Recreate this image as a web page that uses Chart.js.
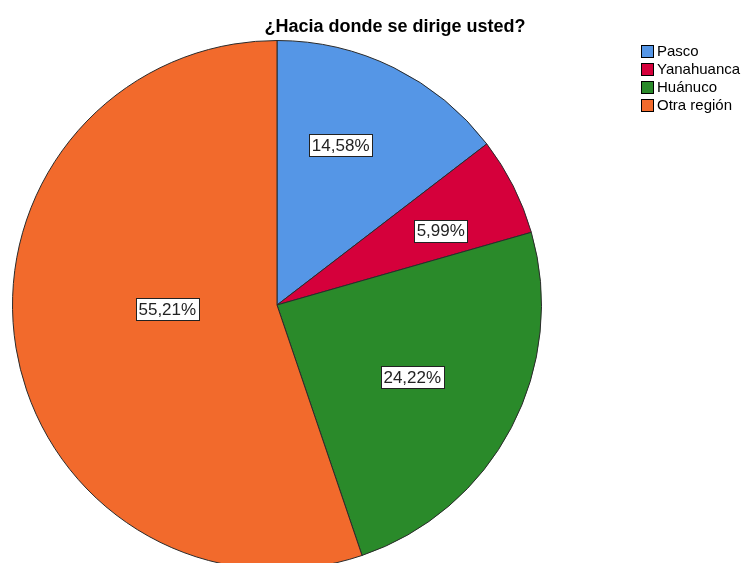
<!DOCTYPE html>
<html>
<head>
<meta charset="utf-8">
<script src="https://cdn.jsdelivr.net/npm/chart.js@4"></script>
<style>
  html, body { margin: 0; padding: 0; background: #fff; overflow: hidden; }
  #wrap { width: 744px; height: 580px; }
</style>
</head>
<body>
<div id="wrap"><canvas id="myChart" width="744" height="580"></canvas></div>
<script>
const regions = ["Pasco", "Yanahuanca", "Huánuco", "Otra región"];
const percents = [14.58, 5.99, 24.22, 55.21];
const colors = ["#5596E6", "#D5003B", "#2A8A2A", "#F26A2C"];

// label placement: share of the radius, and nudge in degrees from the slice middle
const labelDist = [0.65, 0.68, 0.58, 0.415];
const labelNudge = [-4.5, 2.3, 0.5, 7.3];

const ctx = document.getElementById('myChart');

const decor = {
  id: 'decor',
  afterDraw(chart) {
    const c = chart.ctx;
    c.save();
    // title
    c.fillStyle = '#000';
    c.font = 'bold 18px "Liberation Sans", Arial, sans-serif';
    c.textAlign = 'center';
    c.textBaseline = 'middle';
    c.fillText('¿Hacia donde se dirige usted?', 395, 27);

    // legend
    c.font = '15px "Liberation Sans", Arial, sans-serif';
    c.textAlign = 'left';
    regions.forEach((r, i) => {
      const y = 45 + i * 18;
      c.fillStyle = colors[i];
      c.fillRect(641, y, 13, 13);
      c.strokeStyle = '#000';
      c.lineWidth = 1;
      c.strokeRect(641.5, y + 0.5, 12, 12);
      c.fillStyle = '#000';
      c.fillText(r, 657, y + 7);
    });

    // value labels
    const meta = chart.getDatasetMeta(0);
    c.font = '17px "Liberation Sans", Arial, sans-serif';
    c.textAlign = 'center';
    meta.data.forEach((arc, i) => {
      const p = arc.getProps(['x', 'y', 'startAngle', 'endAngle', 'outerRadius'], true);
      const mid = (p.startAngle + p.endAngle) / 2 + labelNudge[i] * Math.PI / 180;
      const d = p.outerRadius * labelDist[i];
      const x = p.x + Math.cos(mid) * d;
      const y = p.y + Math.sin(mid) * d;
      const txt = percents[i].toFixed(2).replace('.', ',') + '%';
      const w = Math.round(c.measureText(txt).width + 5);
      const h = 22;
      const bx = Math.round(x - w / 2) + 0.5;
      const by = Math.round(y - h / 2) + 0.5;
      c.fillStyle = '#fff';
      c.fillRect(bx, by, w, h);
      c.strokeStyle = '#222';
      c.strokeRect(bx, by, w, h);
      c.fillStyle = '#222';
      c.fillText(txt, x, y + 1);
    });
    c.restore();
  }
};

new Chart(ctx, {
  type: 'pie',
  data: {
    labels: regions,
    datasets: [{
      data: percents,
      backgroundColor: colors,
      borderColor: '#2a2a2a',
      borderWidth: 1
    }]
  },
  options: {
    responsive: false,
    animation: false,
    layout: { padding: { left: 12, top: 40, right: 202, bottom: 10 } },
    plugins: {
      legend: { display: false },
      tooltip: { enabled: false }
    }
  },
  plugins: [decor]
});
</script>
</body>
</html>
